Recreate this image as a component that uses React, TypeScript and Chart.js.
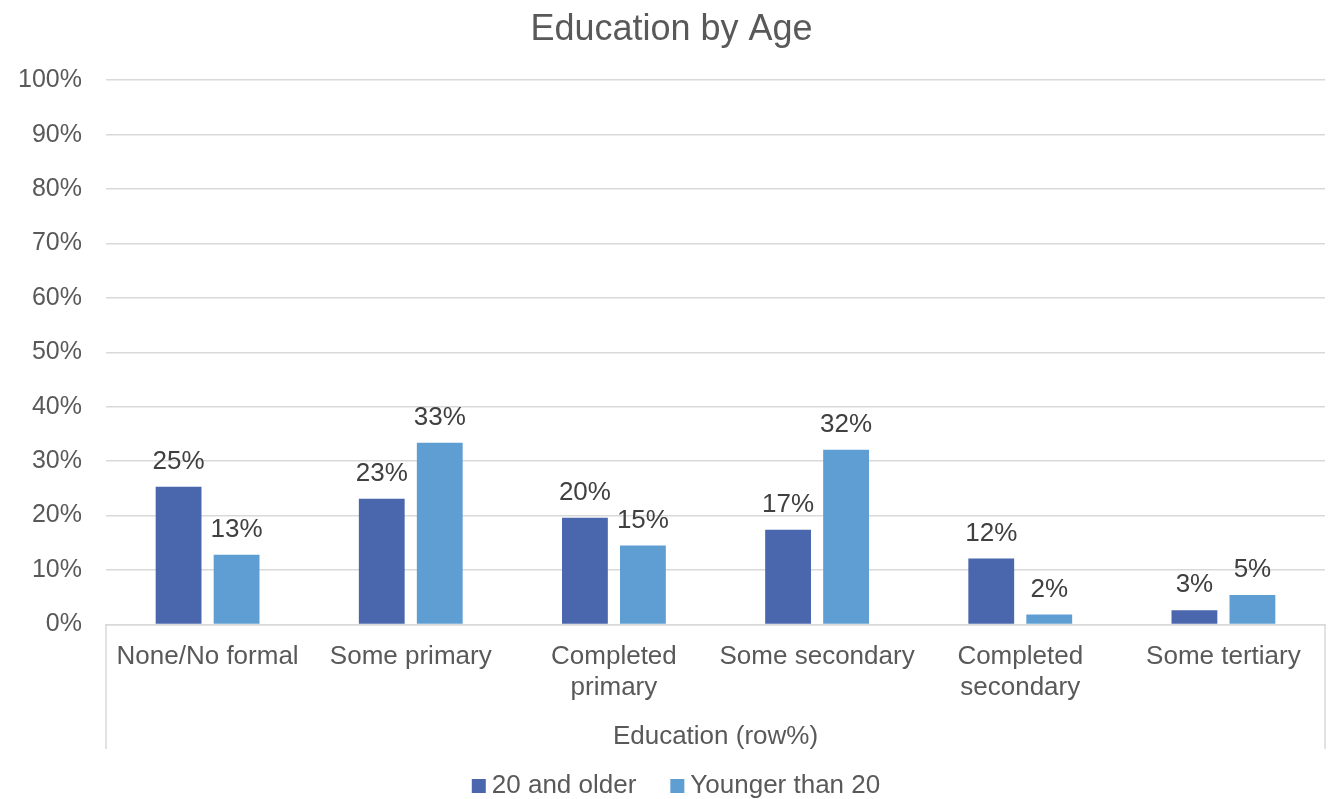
import React, { useEffect, useRef } from "react";
import { Chart, registerables } from "chart.js";

Chart.register(...registerables);

const categories: (string | string[])[] = [
  "None/No formal",
  "Some primary",
  ["Completed", "primary"],
  "Some secondary",
  ["Completed", "secondary"],
  "Some tertiary",
];
const olderValues = [25.3, 23.1, 19.6, 17.4, 12.1, 2.6];
const youngerValues = [12.8, 33.4, 14.5, 32.1, 1.8, 5.4];
const seriesNames = ["20 and older", "Younger than 20"];
const seriesColors = ["#4A66AC", "#5F9ED3"];
const yTicks = [0, 10, 20, 30, 40, 50, 60, 70, 80, 90, 100];

const FONT = "'Liberation Sans', Arial, sans-serif";
const GRID = "#d9d9d9";
const TEXT = "#595959";

const valueLabels = {
  id: "valueLabels",
  afterDatasetsDraw(chart: any) {
    const ctx = chart.ctx;
    ctx.save();
    ctx.font = `26px ${FONT}`;
    ctx.fillStyle = "#404040";
    ctx.textAlign = "center";
    ctx.textBaseline = "middle";
    chart.data.datasets.forEach((ds: any, i: number) => {
      const meta = chart.getDatasetMeta(i);
      meta.data.forEach((el: any, j: number) => {
        const v = ds.data[j];
        ctx.fillText(`${Math.round(v)}%`, el.x, el.y - 25);
      });
    });
    ctx.restore();
  },
};

const boundaryLines = {
  id: "boundaryLines",
  afterDraw(chart: any) {
    const ctx = chart.ctx;
    const { left, right, bottom } = chart.chartArea;
    const xScale = chart.scales.x;
    const end = xScale.bottom - 25;
    ctx.save();
    ctx.strokeStyle = GRID;
    ctx.lineWidth = 1.5;
    ctx.beginPath();
    ctx.moveTo(left, bottom);
    ctx.lineTo(left, end);
    ctx.moveTo(right, bottom);
    ctx.lineTo(right, end);
    ctx.stroke();
    ctx.restore();
  },
};

const bottomLegend = {
  id: "bottomLegend",
  afterDraw(chart: any) {
    const ctx = chart.ctx;
    const box = 14;
    const boxGap = 6;
    const itemGap = 34;
    ctx.save();
    ctx.font = `26px ${FONT}`;
    const items = chart.data.datasets.map((ds: any) => ({
      text: ds.label,
      color: ds.backgroundColor,
      w: ctx.measureText(ds.label).width,
    }));
    const total =
      items.reduce((s: number, it: any) => s + box + boxGap + it.w, 0) +
      itemGap * (items.length - 1);
    const cy = chart.height - 13;
    let x = chart.width / 2 + 12 - total / 2;
    ctx.textBaseline = "middle";
    ctx.textAlign = "left";
    items.forEach((it: any) => {
      ctx.fillStyle = it.color;
      ctx.fillRect(x, cy - box / 2, box, box);
      x += box + boxGap;
      ctx.fillStyle = TEXT;
      ctx.fillText(it.text, x, cy);
      x += it.w + itemGap;
    });
    ctx.restore();
  },
};

export default function App() {
  const ref = useRef<HTMLCanvasElement>(null);
  useEffect(() => {
    if (!ref.current) return;
    const chart = new Chart(ref.current, {
      type: "bar",
      data: {
        labels: categories,
        datasets: [
          {
            label: seriesNames[0],
            data: olderValues,
            backgroundColor: seriesColors[0],
            categoryPercentage: 0.571,
            barPercentage: 0.79,
          },
          {
            label: seriesNames[1],
            data: youngerValues,
            backgroundColor: seriesColors[1],
            categoryPercentage: 0.571,
            barPercentage: 0.79,
          },
        ],
      },
      options: {
        animation: false,
        responsive: true,
        maintainAspectRatio: false,
        layout: { padding: { left: 18, right: 3, top: 0, bottom: 25 } },
        plugins: {
          title: {
            display: true,
            text: "Education by Age",
            color: TEXT,
            font: { family: FONT, size: 36, weight: "normal" },
            padding: { top: 8, bottom: 29 },
          },
          legend: { display: false },
          tooltip: { enabled: false },
        },
        scales: {
          x: {
            grid: { display: false, drawTicks: false },
            border: { display: true, color: GRID, width: 1.5 },
            ticks: {
              color: TEXT,
              font: { family: FONT, size: 26, lineHeight: 1.2 },
              padding: 17,
              maxRotation: 0,
              autoSkip: false,
            },
            title: {
              display: true,
              text: "Education (row%)",
              color: TEXT,
              font: { family: FONT, size: 26 },
              padding: { top: 0, bottom: 22 },
            },
          },
          y: {
            min: 0,
            max: 100,
            afterBuildTicks: (axis: any) => {
              axis.ticks = yTicks.map((v) => ({ value: v }));
            },
            afterFit: (axis: any) => {
              axis.width = 88;
            },
            grid: { color: GRID, lineWidth: 1.5, drawTicks: false },
            border: { display: false },
            ticks: {
              color: TEXT,
              font: { family: FONT, size: 25 },
              padding: 24,
              callback: (v: any) => `${v}%`,
            },
          },
        },
      },
      plugins: [valueLabels, boundaryLines, bottomLegend],
    });
    return () => chart.destroy();
  }, []);
  return (
    <div style={{ position: "fixed", left: 0, top: 0, width: 1328, height: 799, background: "#fff" }}>
      <canvas ref={ref} />
    </div>
  );
}
